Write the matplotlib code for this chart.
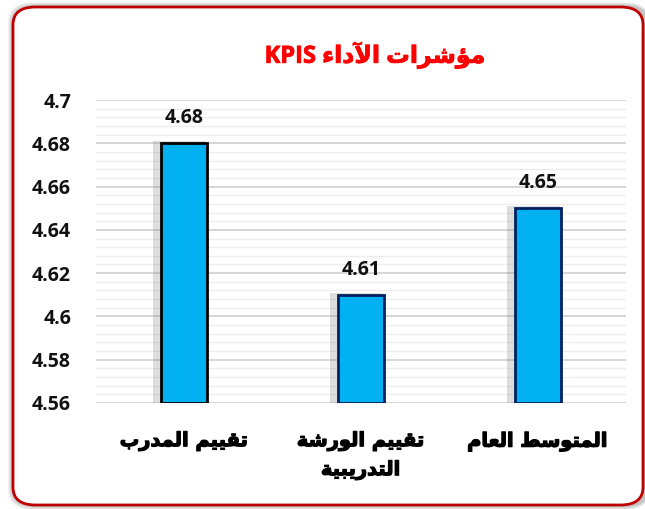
# مؤشرات الأداء - sloupcovy graf

import matplotlib.pyplot as plt
import matplotlib.patheffects as pe
from matplotlib.patches import FancyBboxPatch
from matplotlib.ticker import MultipleLocator
import numpy as np

# data
kategorie = ['تقييم المدرب', 'تقييم الورشة\nالتدريبية', 'المتوسط العام']
hodnoty = [4.68, 4.61, 4.65]
okraje = ['black', '#002060', '#002060']
nadpis_ar = 'مؤشرات الآداء'
nadpis_en = 'KPIS'

# jednoduche tvarovani arabskeho textu (matplotlib neumi shaping ani bidi)
# pismeno: (zakladni kod izolovane formy, pocet forem)
tvary = {
    'ء': (0xFE80, 1), 'آ': (0xFE81, 2), 'أ': (0xFE83, 2), 'ؤ': (0xFE85, 2),
    'إ': (0xFE87, 2), 'ئ': (0xFE89, 4), 'ا': (0xFE8D, 2), 'ب': (0xFE8F, 4),
    'ة': (0xFE93, 2), 'ت': (0xFE95, 4), 'ث': (0xFE99, 4), 'ج': (0xFE9D, 4),
    'ح': (0xFEA1, 4), 'خ': (0xFEA5, 4), 'د': (0xFEA9, 2), 'ذ': (0xFEAB, 2),
    'ر': (0xFEAD, 2), 'ز': (0xFEAF, 2), 'س': (0xFEB1, 4), 'ش': (0xFEB5, 4),
    'ص': (0xFEB9, 4), 'ض': (0xFEBD, 4), 'ط': (0xFEC1, 4), 'ظ': (0xFEC5, 4),
    'ع': (0xFEC9, 4), 'غ': (0xFECD, 4), 'ف': (0xFED1, 4), 'ق': (0xFED5, 4),
    'ك': (0xFED9, 4), 'ل': (0xFEDD, 4), 'م': (0xFEE1, 4), 'ن': (0xFEE5, 4),
    'ه': (0xFEE9, 4), 'و': (0xFEED, 2), 'ى': (0xFEEF, 2), 'ي': (0xFEF1, 4),
}
lam_alef = {'آ': 0xFEF5, 'أ': 0xFEF7, 'إ': 0xFEF9, 'ا': 0xFEFB}


def tvar(radek):
    znaky = list(radek)
    # lam + alef -> ligatura (oznacime si ji jako dvojici)
    tokeny = []
    i = 0
    while i < len(znaky):
        if znaky[i] == 'ل' and i + 1 < len(znaky) and znaky[i + 1] in lam_alef:
            tokeny.append(('LA', znaky[i + 1]))
            i += 2
        else:
            tokeny.append(('C', znaky[i]))
            i += 1

    def spoj_dopredu(t):  # muze se spojit s naslednym znakem
        if t is None:
            return False
        if t[0] == 'LA':
            return False
        return t[1] in tvary and tvary[t[1]][1] == 4

    def spoj_dozadu(t):  # muze se spojit s predchozim znakem
        if t is None:
            return False
        if t[0] == 'LA':
            return True
        return t[1] in tvary and tvary[t[1]][1] >= 2

    vystup = []
    for k, t in enumerate(tokeny):
        pred = tokeny[k - 1] if k > 0 else None
        po = tokeny[k + 1] if k + 1 < len(tokeny) else None
        s_pred = spoj_dopredu(pred) and spoj_dozadu(t)
        if t[0] == 'LA':
            vystup.append(chr(lam_alef[t[1]] + (1 if s_pred else 0)))
            continue
        c = t[1]
        if c not in tvary:
            vystup.append(c)
            continue
        zaklad, n = tvary[c]
        s_po = n == 4 and spoj_dozadu(po)
        if s_pred and s_po:
            vystup.append(chr(zaklad + 3))
        elif s_pred:
            vystup.append(chr(zaklad + 1))
        elif s_po:
            vystup.append(chr(zaklad + 2))
        else:
            vystup.append(chr(zaklad))
    return ''.join(vystup)[::-1]


def ar(text):
    return '\n'.join(tvar(r) for r in text.split('\n'))


cisla_font = ['Open Sans', 'DejaVu Sans']
plt.rcParams['font.family'] = cisla_font

fig = plt.figure(figsize=(6.45, 5.09), dpi=100)

# ramecek se zaoblenymi rohy a stinem (nekolik vrstev)
W, H = 645, 509
for k, a in enumerate([0.10, 0.12, 0.15, 0.2]):
    d = 5 - k
    stin = FancyBboxPatch(((13 - d) / W, (4 - d) / H), (650 - 13 + d) / W, (498 + 2 * d) / H,
                          boxstyle='round,pad=0,rounding_size=0.04', transform=fig.transFigure,
                          facecolor='#808080', edgecolor='none', alpha=a, zorder=-3)
    fig.patches.append(stin)
ram = FancyBboxPatch((13 / W, 4 / H), (643 - 13) / W, 498 / H,
                     boxstyle='round,pad=0,rounding_size=0.035', transform=fig.transFigure,
                     facecolor='white', edgecolor='#C00000', linewidth=2, zorder=-2)
fig.patches.append(ram)

ax = fig.add_axes([96 / W, 1 - 403 / H, (626 - 96) / W, (403 - 100) / H])
ax.set_facecolor('none')

x = np.arange(len(hodnoty))
# stin za sloupci
ax.bar(x - 0.025, np.array(hodnoty) - 4.56 + 0.001, bottom=4.56, width=0.3, color='#7F7F7F',
       alpha=0.25, zorder=2)
sloupce = ax.bar(x, np.array(hodnoty) - 4.56, bottom=4.56, width=0.26, color='#00B0F0',
                 edgecolor=okraje, linewidth=2, zorder=3)

for xi, h in zip(x, hodnoty):
    ax.annotate(f'{h:g}', (xi, h), xytext=(0, 11), textcoords='offset points',
                ha='center', va='bottom', fontsize=14, fontweight='bold', color='#111111')

ax.set_xlim(-0.5, len(hodnoty) - 0.5)
ax.set_ylim(4.56, 4.70)
ax.yaxis.set_major_locator(MultipleLocator(0.02))
ax.yaxis.set_minor_locator(MultipleLocator(0.004))
ax.set_yticks(np.arange(4.56, 4.7001, 0.02))
ax.set_yticklabels([f'{v:g}' for v in np.round(np.arange(4.56, 4.7001, 0.02), 2)])
ax.grid(which='major', axis='y', color='#D0D0D0', linewidth=1.2, zorder=0)
ax.grid(which='minor', axis='y', color='#EDEDED', linewidth=0.9, zorder=0)
ax.set_axisbelow(True)

ax.set_xticks(x)
ax.set_xticklabels([ar(k) for k in kategorie], fontsize=14, fontweight='bold',
                   family=['DejaVu Sans'], linespacing=1.6)
for s in ax.spines.values():
    s.set_visible(False)
ax.tick_params(axis='both', which='both', length=0)
ax.tick_params(axis='y', labelsize=14, pad=18)
ax.tick_params(axis='x', pad=21)
for lbl in ax.get_yticklabels():
    lbl.set_fontweight('bold')
    lbl.set_color('#111111')
for lbl in ax.get_xticklabels():
    lbl.set_va('top')
    lbl.set_path_effects([pe.withStroke(linewidth=0.9, foreground='black')])

fig.text(375 / W, 1 - 55 / H, nadpis_en + ' ' + ar(nadpis_ar), ha='center', va='center',
         fontsize=17, fontweight='bold', color='#FF0000', family=['Open Sans', 'DejaVu Sans'],
         path_effects=[pe.withStroke(linewidth=0.6, foreground='#FF0000')])

fig.savefig('out.png', dpi=100)
